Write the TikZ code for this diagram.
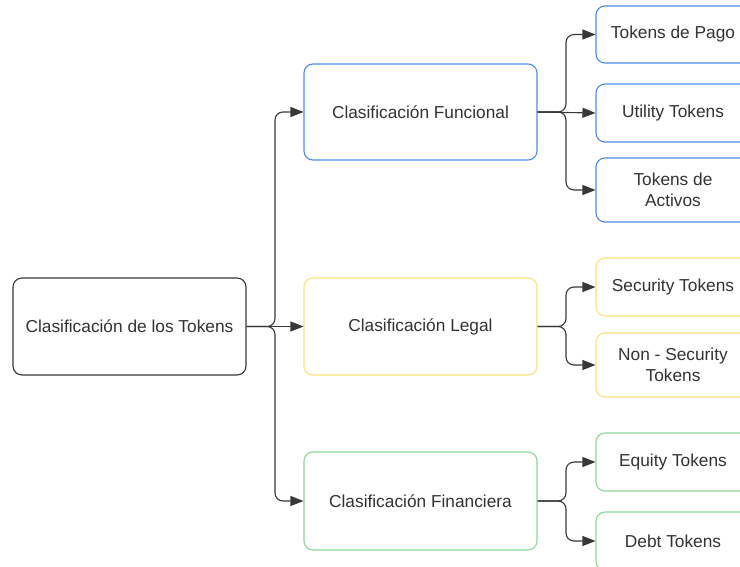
\documentclass[tikz,border=0pt]{standalone}
\usepackage{fontspec}
\setmainfont{Liberation Sans}
\usetikzlibrary{arrows.meta}
\definecolor{cblue}{HTML}{4C8DF0}
\definecolor{cyellow}{HTML}{FBE27A}
\definecolor{cgreen}{HTML}{8DD79A}
\definecolor{cdark}{HTML}{383838}
\definecolor{ctext}{HTML}{333333}
\tikzset{
  box/.style={draw, rounded corners=9pt, line width=1.1pt, inner sep=0pt, align=center,
    text=ctext, font=\fontsize{17.3}{21}\selectfont},
  rootbox/.style={box, draw=cdark, minimum width=233pt, minimum height=97pt},
  midbox/.style={box, minimum width=233pt},
  leafbox/.style={box, minimum width=154pt},
  conn/.style={draw=cdark, line width=1.1pt, rounded corners=8pt,
    -{Triangle[length=13pt,width=10pt]}},
}
\begin{document}
\begin{tikzpicture}[x=1pt,y=-1pt]
\useasboundingbox (0,0) rectangle (740,566);
\clip (0,0) rectangle (740,566);
\fill[white] (0,0) rectangle (740,566);
\node[rootbox] (root) at (129.5,326.5) {Clasificación de los Tokens};
\node[midbox, draw=cblue, minimum height=96pt] (func) at (420.5,112) {Clasificación Funcional};
\node[midbox, draw=cyellow, minimum height=97pt] (legal) at (420.5,326.5) {Clasificación Legal};
\node[midbox, draw=cgreen, minimum height=98pt] (fin) at (420.5,501) {Clasificación Financiera};
\node[leafbox, draw=cblue, minimum height=57pt] (pago) at (673,34.5) {Tokens de Pago};
\node[leafbox, draw=cblue, minimum height=58pt] (util) at (673,113) {Utility Tokens};
\node[leafbox, draw=cblue, minimum height=64pt] (activos) at (673,190) {Tokens de\\Activos};
\node[leafbox, draw=cyellow, minimum height=58pt] (sec) at (673,287) {Security Tokens};
\node[leafbox, draw=cyellow, minimum height=64pt] (nonsec) at (673,365) {Non - Security\\Tokens};
\node[leafbox, draw=cgreen, minimum height=58pt] (equity) at (673,462) {Equity Tokens};
\node[leafbox, draw=cgreen, minimum height=58pt] (debt) at (673,541) {Debt Tokens};
\coordinate (j0) at (275,326.5);
\coordinate (j1) at (566,112);
\coordinate (j2) at (566,326.5);
\coordinate (j3) at (566,501);
\draw[conn] (root.east) -- (j0) |- (func.west);
\draw[conn] (root.east) -- (legal.west);
\draw[conn] (root.east) -- (j0) |- (fin.west);
\draw[conn] (func.east) -- (j1) |- (pago.west);
\draw[conn] (func.east) -- (util.west);
\draw[conn] (func.east) -- (j1) |- (activos.west);
\draw[conn] (legal.east) -- (j2) |- (sec.west);
\draw[conn] (legal.east) -- (j2) |- (nonsec.west);
\draw[conn] (fin.east) -- (j3) |- (equity.west);
\draw[conn] (fin.east) -- (j3) |- (debt.west);
\end{tikzpicture}
\end{document}
